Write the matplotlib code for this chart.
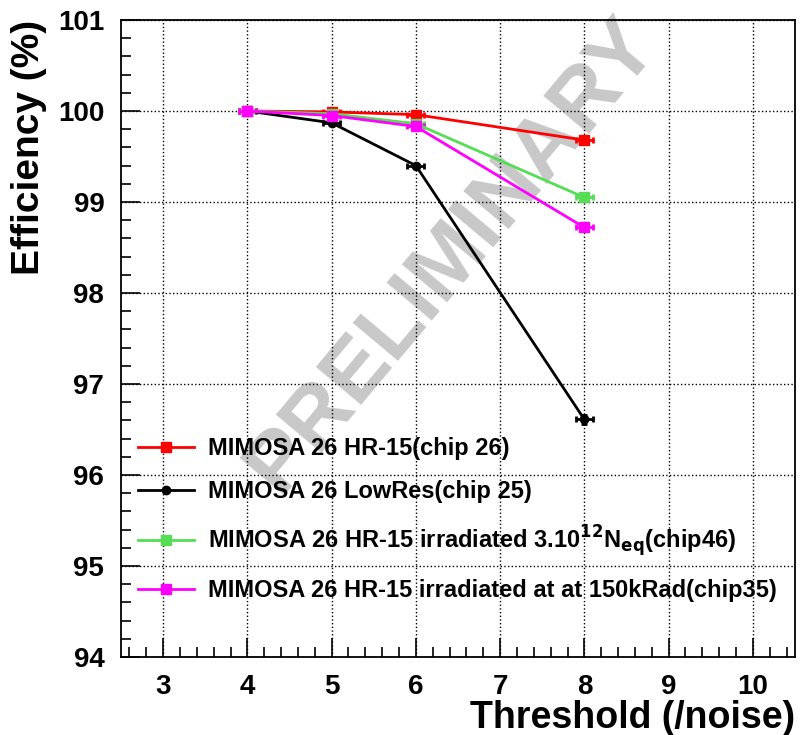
import numpy as np
import matplotlib.pyplot as plt
from matplotlib.ticker import MultipleLocator
from matplotlib.lines import Line2D

plt.rcParams['font.family'] = ['Liberation Sans', 'DejaVu Sans']
plt.rcParams['font.weight'] = 'bold'
plt.rcParams['mathtext.default'] = 'bf'

# data
threshold = [4, 5, 6, 8]
eff_hr15 = [100.0, 99.99, 99.96, 99.68]
eff_lowres = [100.0, 99.87, 99.40, 96.61]
eff_irr_neq = [100.0, 99.97, 99.86, 99.05]
eff_irr_krad = [100.0, 99.95, 99.83, 98.72]
x_err = [0.1, 0.1, 0.1, 0.1]
y_err_lowres = [0.01, 0.02, 0.02, 0.05]
y_err_other = [0.01, 0.01, 0.01, 0.02]

labels = ['MIMOSA 26 HR-15(chip 26)',
          'MIMOSA 26 LowRes(chip 25)',
          r'MIMOSA 26 HR-15 irradiated 3.10$^{12}$N$_{eq}$(chip46)',
          'MIMOSA 26 HR-15 irradiated at at 150kRad(chip35)']
colors = ['#ff0000', '#000000', '#55dd55', '#ff00ff']
markers = ['s', 'o', 's', 's']
series = [eff_hr15, eff_lowres, eff_irr_neq, eff_irr_krad]
yerrs = [y_err_other, y_err_lowres, y_err_other, y_err_other]

fig = plt.figure(figsize=(8.05, 7.35), dpi=100)
ax = fig.add_axes([121/805, 1 - 657/735, (795-121)/805, (657-20)/735])

# watermark
ax.text(0.49, 0.63, 'PRELIMINARY', transform=ax.transAxes, rotation=50,
        fontsize=62, color='#c8c8c8', ha='center', va='center', zorder=0)

handles = []
for y, ye, c, m, lab in zip(series, yerrs, colors, markers, labels):
    ms = 7 if m == 's' else 6
    ax.errorbar(threshold, y, xerr=x_err, yerr=ye, color=c, marker=m,
                markersize=ms, lw=2, elinewidth=2,
                capsize=2, capthick=2, zorder=3)
    handles.append(Line2D([], [], color=c, marker=m, markersize=ms, lw=2, label=lab))

ax.set_xlim(2.5, 10.5)
ax.set_ylim(94, 101)
ax.xaxis.set_major_locator(MultipleLocator(1))
ax.xaxis.set_minor_locator(MultipleLocator(0.2))
ax.yaxis.set_major_locator(MultipleLocator(1))
ax.yaxis.set_minor_locator(MultipleLocator(0.2))
ax.tick_params(which='both', direction='in', top=False, right=False,
               labelsize=20, width=1.2)
ax.tick_params(which='major', length=14, pad=12)
ax.tick_params(which='minor', length=7)
ax.grid(True, which='major', ls=':', color='black', lw=1)
for s in ax.spines.values():
    s.set_linewidth(1.3)

ax.set_xlabel('Threshold (/noise)', fontsize=27, fontweight='bold', loc='right', labelpad=0)
ax.set_ylabel('Efficiency (%)', fontsize=28, fontweight='bold', loc='top', labelpad=8)

leg = ax.legend(handles=handles, loc='lower left', bbox_to_anchor=(0.0, 0.06),
                frameon=False, fontsize=17, labelspacing=0.85, handlelength=2.4,
                handletextpad=0.6, borderaxespad=0.3)

fig.savefig('out.png', dpi=100)
